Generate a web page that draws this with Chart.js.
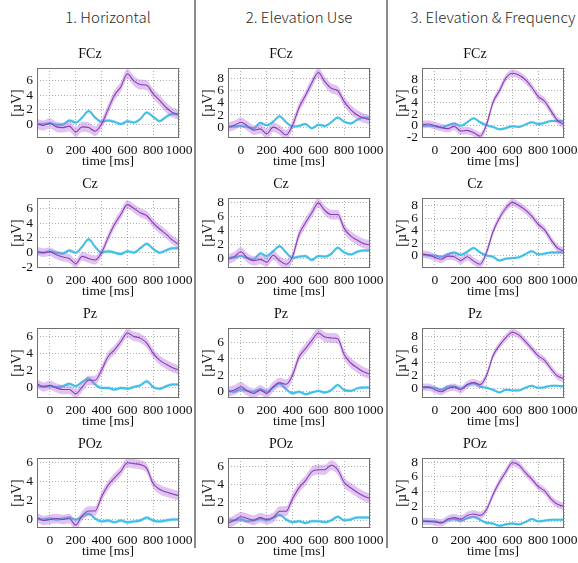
<!DOCTYPE html>
<html><head><meta charset="utf-8">
<script src="https://cdn.jsdelivr.net/npm/chart.js@4.4.0/dist/chart.umd.min.js"></script>
<style>
html,body{margin:0;padding:0;background:#fff;}
#wrap{position:relative;width:578px;height:563px;overflow:hidden;background:#fff;}
canvas{position:absolute;}
.ct{position:absolute;top:7px;height:20px;line-height:20px;font-family:"Noto Sans CJK JP","Noto Sans",sans-serif;font-weight:300;font-size:15px;color:#2a2a2a;white-space:nowrap;transform:translateX(-50%);}
.sep{position:absolute;top:0;width:2px;height:548px;background:#8a8a8a;}
</style></head><body><div id="wrap"></div>
<script>
// ---------- data ----------
const columnTitles = ["1. Horizontal", "2. Elevation Use", "3. Elevation & Frequency"];
const channels = ["FCz", "Cz", "Pz", "POz"];
const times = [-100,-50,0,50,100,150,200,250,300,350,400,450,500,550,600,650,700,750,800,850,900,950,1000];
const xTicks = [0,200,400,600,800,1000];

// 1. Horizontal
const h_FCz_target    = [0.0,-0.2,0.1,-0.4,-0.5,-0.3,-1.1,-0.4,-0.5,-1.0,0.0,2.0,4.0,5.2,7.0,6.0,5.5,5.4,4.2,3.3,2.3,1.6,1.3];
const h_FCz_nontarget = [0.0,0.0,0.1,-0.1,-0.1,0.5,0.2,0.9,1.8,0.9,0.3,0.5,0.3,0.0,0.4,0.2,0.7,1.6,1.0,0.4,1.0,1.4,1.3];
const h_Cz_target     = [0.2,0.0,0.1,-0.3,-0.6,-0.8,-1.5,-0.5,-0.8,-1.0,0.0,2.0,3.8,5.2,6.5,6.0,5.4,5.0,4.0,3.2,2.5,1.7,1.1];
const h_Cz_nontarget  = [0.0,0.0,0.2,0.0,-0.1,0.3,0.0,0.8,1.8,0.8,0.0,0.2,0.0,-0.2,0.2,0.0,0.6,1.2,0.5,0.0,0.3,0.6,0.6];
const h_Pz_target     = [0.4,0.0,0.2,-0.1,-0.3,-0.3,-0.8,0.0,0.8,0.8,2.0,3.6,4.4,5.4,6.4,6.0,5.8,5.2,4.0,3.2,2.7,2.3,2.0];
const h_Pz_nontarget  = [0.1,0.1,0.1,0.0,0.1,0.4,0.1,0.6,1.0,0.3,-0.1,-0.1,-0.3,-0.1,-0.2,0.0,0.2,0.7,0.0,-0.2,0.1,0.3,0.3];
const h_POz_target    = [0.2,-0.1,0.0,0.1,0.0,0.1,-0.6,0.4,0.9,0.9,2.4,3.6,4.4,5.1,6.0,5.9,5.8,5.4,3.8,3.2,2.9,2.7,2.5];
const h_POz_nontarget = [0.1,0.0,0.1,0.0,0.1,0.2,0.0,0.3,0.6,0.1,-0.2,-0.1,-0.3,-0.1,-0.3,-0.2,-0.1,0.2,-0.1,-0.2,-0.1,0.0,0.0];

// 2. Elevation Use
const e_FCz_target    = [0.0,0.3,0.8,0.2,-0.5,-0.3,-1.1,0.0,-0.5,-1.3,0.3,3.2,5.2,7.3,9.0,7.5,6.4,6.0,4.2,2.9,2.0,1.5,1.2];
const e_FCz_nontarget = [0.0,0.1,0.2,0.0,-0.2,0.7,0.3,0.9,1.8,0.8,0.1,0.2,0.5,-0.2,0.4,0.2,0.8,1.6,0.9,0.6,1.2,1.6,1.5];
const e_Cz_target     = [-0.2,0.2,0.9,0.0,-0.4,-0.2,-0.6,0.4,-0.4,-0.9,0.2,3.4,5.1,6.6,8.0,6.9,6.3,6.3,4.3,3.2,2.6,2.1,1.9];
const e_Cz_nontarget  = [0.0,0.1,0.3,0.0,-0.2,0.7,0.3,1.0,1.7,0.8,0.0,0.2,0.3,-0.3,0.3,0.2,0.6,1.5,0.8,0.5,0.9,1.1,1.1];
const e_Pz_target     = [0.0,0.2,0.6,0.1,-0.2,0.2,-0.2,0.6,1.1,0.9,2.0,4.2,5.2,6.2,7.1,6.6,6.5,6.4,4.5,3.5,2.9,2.4,2.1];
const e_Pz_nontarget  = [0.1,0.0,0.3,0.1,0.0,0.3,0.0,0.5,1.0,0.3,-0.2,0.0,-0.3,-0.1,0.1,-0.1,0.2,0.8,0.2,0.1,0.4,0.5,0.5];
const e_POz_target    = [-0.3,0.0,0.4,0.2,0.0,0.3,0.1,0.3,1.0,1.0,2.4,3.6,4.4,5.4,5.6,5.6,6.1,5.6,4.2,3.6,3.1,2.7,2.4];
const e_POz_nontarget = [0.0,0.0,0.1,-0.1,0.0,0.2,0.0,0.3,0.6,0.1,-0.2,-0.1,-0.3,-0.1,-0.1,-0.2,0.0,0.4,0.0,0.1,0.3,0.3,0.3];

// 3. Elevation & Frequency
const f_FCz_target    = [0.2,0.3,0.0,-0.3,-0.5,-0.1,-0.9,-0.8,-1.2,-1.8,0.2,4.0,6.0,8.2,9.0,8.7,7.9,6.6,5.0,4.2,2.5,0.9,0.2];
const f_FCz_nontarget = [0.0,0.0,-0.1,-0.3,0.1,0.4,0.0,0.6,1.3,0.6,0.1,-0.2,-0.6,-0.4,-0.1,-0.2,0.2,0.6,0.3,0.5,0.8,0.8,0.8];
const f_Cz_target     = [0.2,0.1,-0.3,-0.6,-0.1,-0.2,-0.8,-0.2,-0.9,-1.4,0.5,3.8,6.0,7.6,8.5,8.0,7.3,6.3,5.0,4.1,2.5,1.2,0.7];
const f_Cz_nontarget  = [0.2,0.0,0.0,-0.2,0.2,0.5,0.1,0.6,1.2,0.5,0.0,-0.2,-0.8,-0.5,-0.4,-0.3,0.2,0.7,0.2,0.3,0.5,0.5,0.5];
const f_Pz_target     = [0.2,0.2,-0.2,-0.5,0.0,0.2,-0.2,0.6,0.9,0.6,2.0,5.0,6.6,7.8,8.6,8.2,7.2,6.1,5.0,4.3,3.0,1.9,1.5];
const f_Pz_nontarget  = [0.2,0.2,0.1,-0.2,0.3,0.3,0.0,0.5,0.8,0.3,0.1,-0.2,-0.6,-0.2,-0.3,-0.3,0.1,0.4,0.1,0.2,0.4,0.4,0.3];
const f_POz_target    = [0.0,0.0,-0.1,-0.2,0.3,0.5,0.3,0.8,1.0,0.8,1.6,3.6,5.3,6.7,7.9,7.6,6.6,5.7,4.7,4.1,3.0,2.3,2.0];
const f_POz_nontarget = [0.1,0.0,0.0,-0.2,0.2,0.3,0.1,0.4,0.6,0.2,-0.2,-0.3,-0.6,-0.4,-0.3,-0.4,-0.1,0.3,0.0,0.1,0.2,0.2,0.2];

// standard-error half widths (µV) per panel [FCz, Cz, Pz, POz]
const h_targetSE = [0.7,0.6,0.55,0.5];
const e_targetSE = [0.8,0.7,0.6,0.55];
const f_targetSE = [0.65,0.6,0.55,0.5];
const h_nontargetSE = [0.22,0.22,0.18,0.18];
const e_nontargetSE = [0.22,0.22,0.18,0.18];
const f_nontargetSE = [0.22,0.22,0.18,0.18];

// y-axis ranges [min,max] and tick labels per panel
const h_yRange = [[-1.95,7.8],[-2.08,7.4],[-1.3,7.0],[-0.9,6.5]];
const e_yRange = [[-1.8,9.75],[-1.45,8.7],[-0.76,7.7],[-0.85,6.9]];
const f_yRange = [[-2.1,9.9],[-2.0,9.2],[-1.46,9.26],[-0.9,8.55]];
const h_yTicks = [[0,2,4,6],[-2,0,2,4,6],[0,2,4,6],[0,2,4,6]];
const e_yTicks = [[0,2,4,6,8],[0,2,4,6,8],[0,2,4,6],[0,2,4,6]];
const f_yTicks = [[-2,0,2,4,6,8],[0,2,4,6,8],[0,2,4,6,8],[0,2,4,6,8]];

// ---------- layout ----------
const plotLeft = [37, 228, 422];
const plotWidth = 142;
const plotTop = [68, 198, 328, 458];
const plotHeight = 70;
const serif = '"Liberation Serif","Times New Roman",serif';

const cols = [
  {t:[h_FCz_target,h_Cz_target,h_Pz_target,h_POz_target], n:[h_FCz_nontarget,h_Cz_nontarget,h_Pz_nontarget,h_POz_nontarget], tse:h_targetSE, nse:h_nontargetSE, yr:h_yRange, yt:h_yTicks},
  {t:[e_FCz_target,e_Cz_target,e_Pz_target,e_POz_target], n:[e_FCz_nontarget,e_Cz_nontarget,e_Pz_nontarget,e_POz_nontarget], tse:e_targetSE, nse:e_nontargetSE, yr:e_yRange, yt:e_yTicks},
  {t:[f_FCz_target,f_Cz_target,f_Pz_target,f_POz_target], n:[f_FCz_nontarget,f_Cz_nontarget,f_Pz_nontarget,f_POz_nontarget], tse:f_targetSE, nse:f_nontargetSE, yr:f_yRange, yt:f_yTicks}
];

const wrap = document.getElementById('wrap');

// separators
[195, 387].forEach(x => { const d = document.createElement('div'); d.className='sep'; d.style.left = (x-1)+'px'; wrap.appendChild(d); });
// column titles
columnTitles.forEach((t,i) => { const d = document.createElement('div'); d.className='ct'; d.textContent=t; d.style.left=(plotLeft[i]+plotWidth/2)+'px'; wrap.appendChild(d); });

const boxPlugin = {
  id:'box',
  afterDatasetsDraw(c){
    const {ctx, chartArea:a} = c;
    ctx.save(); ctx.strokeStyle='#707070'; ctx.lineWidth=1;
    ctx.strokeRect(Math.round(a.left)+0.5, Math.round(a.top)+0.5, Math.round(a.width)-1, Math.round(a.height)-1);
    ctx.restore();
  }
};

const pts = arr => times.map((x,i) => ({x:x, y:arr[i]}));

function makePanel(ci, ri){
  const col = cols[ci];
  const tgt = col.t[ri], non = col.n[ri], tse = col.tse[ri], nse = col.nse[ri];
  const yr = col.yr[ri], yt = col.yt[ri];
  const W = 36 + plotWidth + 20, H = 22 + plotHeight + 36;
  const cv = document.createElement('canvas');
  cv.width = W; cv.height = H;
  cv.style.left = (plotLeft[ci]-36)+'px'; cv.style.top = (plotTop[ri]-22)+'px';
  cv.style.width = W+'px'; cv.style.height = H+'px';
  wrap.appendChild(cv);
  const base = {pointRadius:0, cubicInterpolationMode:'monotone'};
  new Chart(cv, {
    type:'line',
    data:{datasets:[
      Object.assign({data:pts(tgt), borderColor:'#8a3db6', borderWidth:1.1, fill:false, order:0}, base),
      Object.assign({data:pts(tgt.map(v=>v+tse)), borderWidth:0, borderColor:'rgba(0,0,0,0)', backgroundColor:'rgba(178,105,218,0.40)', fill:'+1', order:1}, base),
      Object.assign({data:pts(tgt.map(v=>v-tse)), borderWidth:0, borderColor:'rgba(0,0,0,0)', fill:false, order:1}, base),
      Object.assign({data:pts(non), borderColor:'#40c0e8', borderWidth:2, fill:false, order:2}, base),
      Object.assign({data:pts(non.map(v=>v+nse)), borderWidth:0, borderColor:'rgba(0,0,0,0)', backgroundColor:'rgba(100,205,240,0.45)', fill:'+1', order:3}, base),
      Object.assign({data:pts(non.map(v=>v-nse)), borderWidth:0, borderColor:'rgba(0,0,0,0)', fill:false, order:3}, base)
    ]},
    options:{
      responsive:false, animation:false, events:[],
      layout:{padding:{left:0,right:20,top:0,bottom:0}},
      plugins:{
        legend:{display:false}, tooltip:{enabled:false},
        title:{display:true, text:channels[ri], color:'#111', font:{family:serif,size:14,weight:'normal',lineHeight:1}, padding:{top:1,bottom:7}}
      },
      scales:{
        x:{type:'linear', min:-100, max:1000,
           afterBuildTicks:s=>{ s.ticks = xTicks.map(v=>({value:v})); },
           afterFit:s=>{ s.height = 36; },
           ticks:{autoSkip:false, maxRotation:0, minRotation:0, padding:4, color:'#111', font:{family:serif,size:13.5}, callback:v=>String(v)},
           grid:{color:'#9a9a9a', lineWidth:0.8, drawTicks:false},
           border:{display:false, dash:[1,2]},
           title:{display:true, text:'time [ms]', color:'#111', font:{family:serif,size:13.5}, padding:{top:0,bottom:4}}
        },
        y:{type:'linear', min:yr[0], max:yr[1],
           afterBuildTicks:s=>{ s.ticks = yt.map(v=>({value:v})); },
           afterFit:s=>{ s.width = 36; },
           ticks:{autoSkip:false, padding:4, color:'#111', font:{family:serif,size:13.5}, callback:v=>String(v)},
           grid:{color:'#9a9a9a', lineWidth:0.8, drawTicks:false},
           border:{display:false, dash:[1,2]},
           title:{display:true, text:'[µV]', color:'#111', font:{family:serif,size:14}, padding:{top:8,bottom:0}}
        }
      }
    },
    plugins:[boxPlugin]
  });
}

for (let c=0;c<3;c++) for (let r=0;r<4;r++) makePanel(c,r);
</script>
</body></html>
